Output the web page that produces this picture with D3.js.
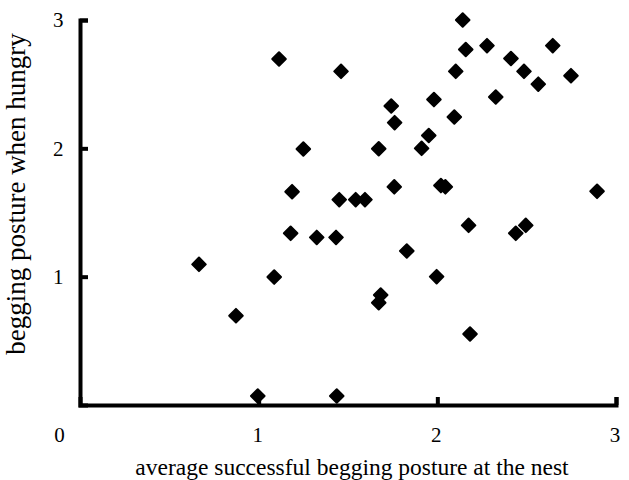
<!DOCTYPE html>
<html>
<head>
<meta charset="utf-8">
<script src="https://cdn.jsdelivr.net/npm/d3@7"></script>
<style>
    body { margin: 0; background: #fff; }
    svg text { font-family: "Liberation Serif", "Times New Roman", serif; fill: #000; }
</style>
</head>
<body>
<svg id="chart" width="629" height="480"></svg>
<script>
// Data: x = average successful posture at the nest, y = posture when hungry
const xValues = [0.666, 0.873, 0.995, 1.087, 1.114, 1.250, 1.187, 1.179, 1.325, 1.433,
    1.461, 1.451, 1.543, 1.595, 1.437, 1.672, 1.683, 1.672, 1.829, 1.759,
    1.742, 1.761, 1.912, 1.952, 1.981, 2.020, 2.045, 1.996, 2.095, 2.103,
    2.142, 2.159, 2.278, 2.327, 2.412, 2.485, 2.565, 2.646, 2.748, 2.175,
    2.495, 2.439, 2.183, 2.894];
const yValues = [1.096, 0.696, 0.070, 0.997, 2.696, 1.995, 1.662, 1.338, 1.306, 1.306,
    2.600, 1.600, 1.600, 1.600, 0.070, 1.997, 0.857, 0.797, 1.200, 1.700,
    2.330, 2.200, 2.000, 2.100, 2.380, 1.710, 1.700, 1.000, 2.244, 2.600,
    3.000, 2.770, 2.800, 2.400, 2.700, 2.600, 2.500, 2.800, 2.566, 1.400,
    1.400, 1.338, 0.553, 1.665];
const xTicks = [0, 1, 2, 3];
const yTicks = [1, 2, 3];
const xTitle = 'average successful begging posture at the nest';
const yTitle = 'begging posture when hungry';

/**
 * Layout.
 */
const margin = { top: 20, right: 13, bottom: 75, left: 80 },
    visWidth = 629, visHeight = 480,
    width = visWidth - margin.left - margin.right,
    height = visHeight - margin.top - margin.bottom;

const data = xValues.map((x, i) => ({ x: x, y: yValues[i] }));

const xScale = d3.scaleLinear().domain([0, 3]).range([0, width]),
    yScale = d3.scaleLinear().domain([0, 3]).range([height, 0]);

const svg = d3.select('#chart');
const g = svg.append('g').attr('transform', 'translate(' + margin.left + ',' + margin.top + ')');

// Points: squares turned 45 degrees, corners softened by the stroke
const diamond = d3.symbol().type(d3.symbolSquare).size(92);
g.append('g').attr('class', 'points')
    .selectAll('path').data(data).enter().append('path')
    .attr('d', diamond)
    .attr('transform', d => 'translate(' + xScale(d.x) + ',' + yScale(d.y) + ') rotate(45)')
    .style('fill', '#000')
    .style('stroke', '#000')
    .style('stroke-width', 2)
    .style('stroke-linejoin', 'round');

// Axes, ticks point inward
const xAxis = d3.axisBottom(xScale).tickValues(xTicks).tickFormat(d3.format('d'))
    .tickSizeInner(-8).tickSizeOuter(-8).tickPadding(22);
const yAxis = d3.axisLeft(yScale).tickValues(yTicks).tickFormat(d3.format('d'))
    .tickSizeInner(-8).tickSizeOuter(-8).tickPadding(16.5);

const xG = g.append('g').attr('transform', 'translate(0,' + height + ')').call(xAxis);
const yG = g.append('g').call(yAxis);

[xG, yG].forEach(a => {
    a.select('.domain').style('stroke', '#000').style('stroke-width', 4);
    a.selectAll('.tick line').style('stroke', '#000').style('stroke-width', 4);
    a.selectAll('.tick text').style('font-size', '21px');
    a.attr('font-family', null).attr('font-size', null);
});

// Shared origin label sits left of the corner
xG.selectAll('.tick text').attr('dx', d => d === 0 ? -21 : -1.5);
xG.selectAll('.tick').filter(d => d === 0).select('line').remove();

// Axis titles
g.append('text')
    .attr('x', 272).attr('y', height + 70)
    .attr('text-anchor', 'middle')
    .style('font-size', '23.5px')
    .text(xTitle);

svg.append('text')
    .attr('transform', 'translate(25,194) rotate(-90)')
    .attr('text-anchor', 'middle')
    .style('font-size', '27px')
    .text(yTitle);
</script>
</body>
</html>
